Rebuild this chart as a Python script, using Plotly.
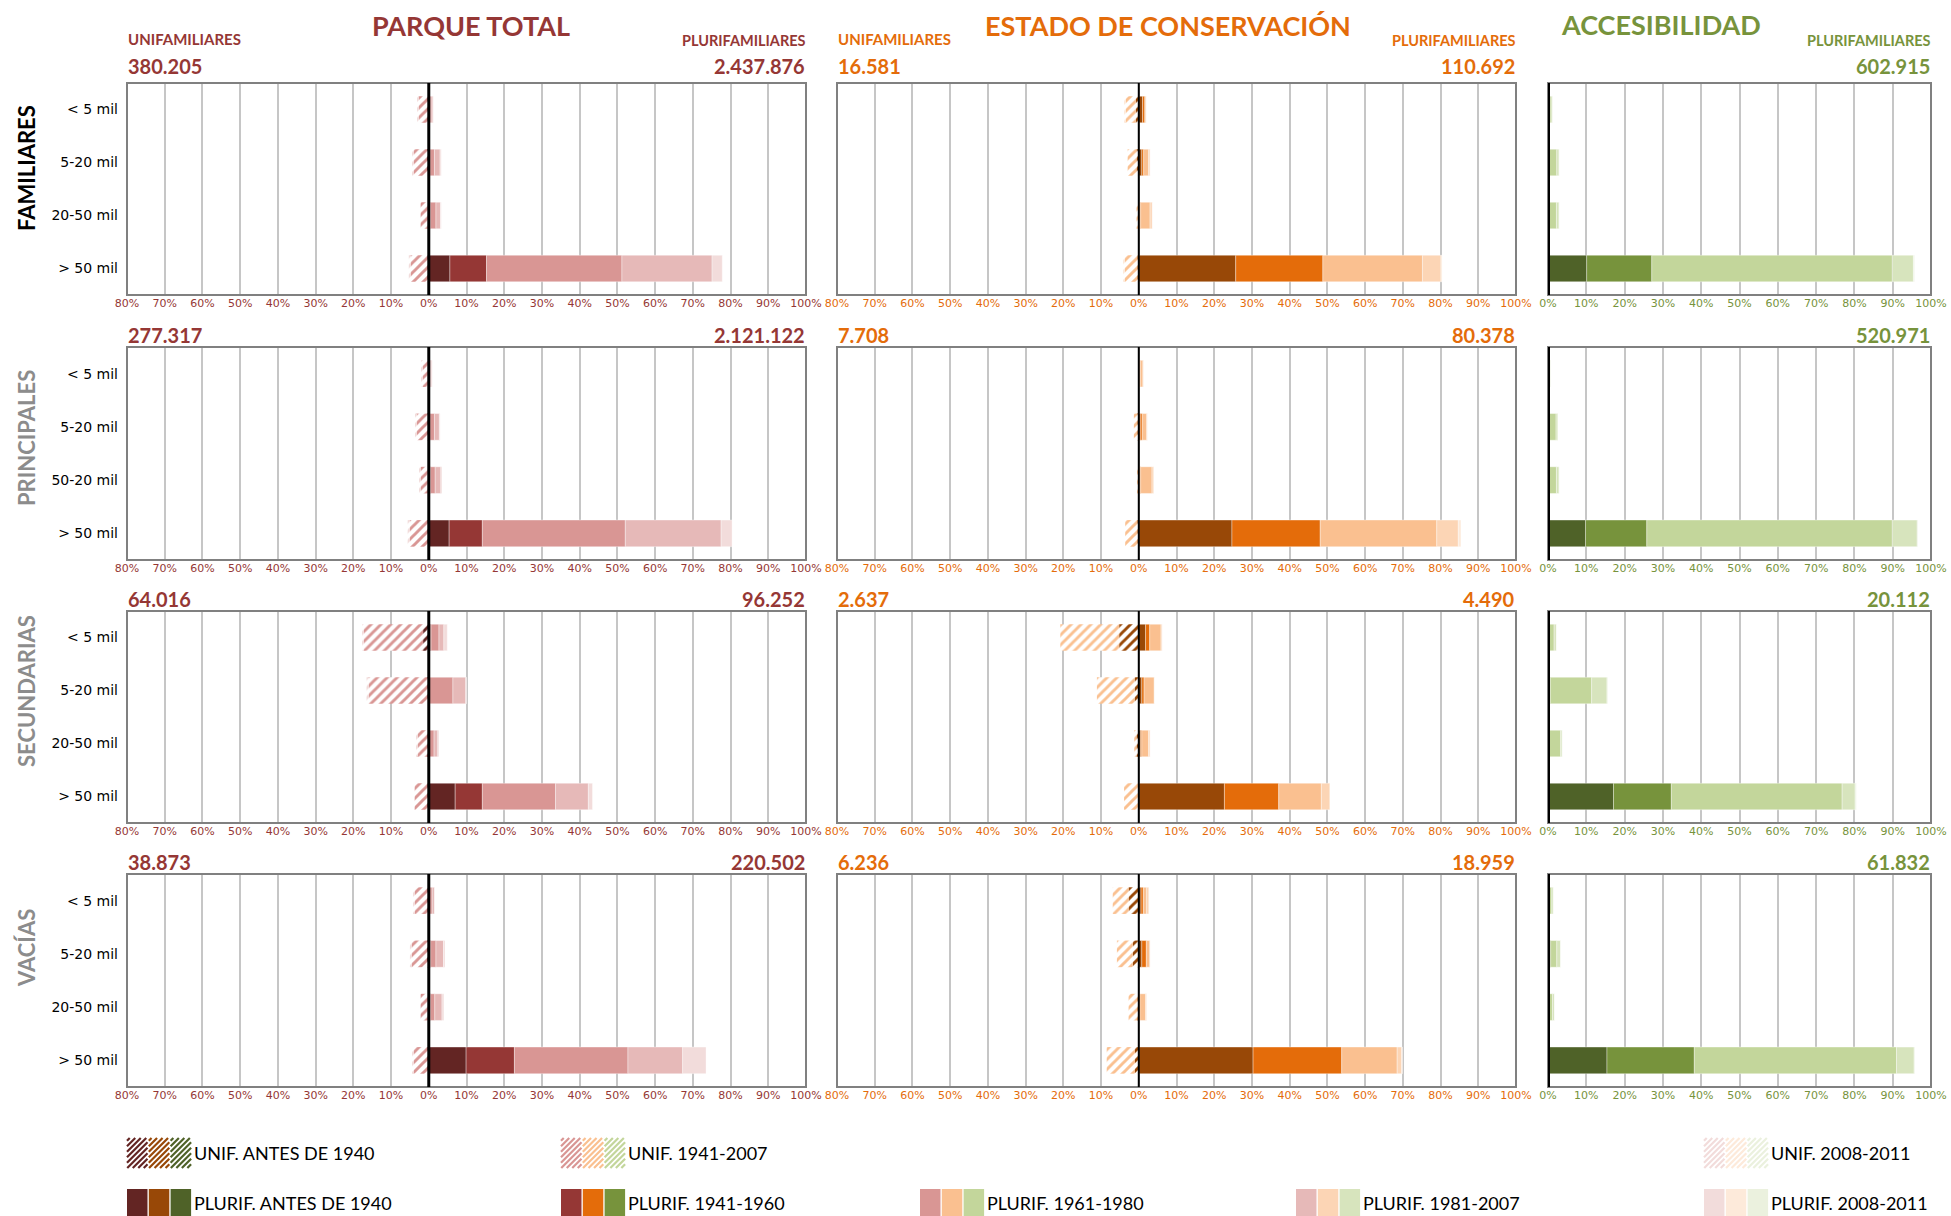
import plotly.graph_objects as go

# ---------------- DATA ----------------
CATS = ["< 5 mil", "5-20 mil", "20-50 mil", "> 50 mil"]
CATS_PRI = ["< 5 mil", "5-20 mil", "50-20 mil", "> 50 mil"]
ROW_NAMES = ["FAMILIARES", "PRINCIPALES", "SECUNDARIAS", "VACÍAS"]
PANEL_TITLES = ["PARQUE TOTAL", "ESTADO DE CONSERVACIÓN", "ACCESIBILIDAD"]
UNIF_PERIODS = ["UNIF. ANTES DE 1940", "UNIF. 1941-2007", "UNIF. 2008-2011"]
PLURIF_PERIODS = ["PLURIF. ANTES DE 1940", "PLURIF. 1941-1960", "PLURIF. 1961-1980",
                  "PLURIF. 1981-2007", "PLURIF. 2008-2011"]
X_TICKS_BI = [-80, -70, -60, -50, -40, -30, -20, -10, 0, 10, 20, 30, 40, 50, 60, 70, 80, 90, 100]
X_TICKS_UNI = [0, 10, 20, 30, 40, 50, 60, 70, 80, 90, 100]

PT_UNIF_TOTALS = ["380.205", "277.317", "64.016", "38.873"]
PT_PLURIF_TOTALS = ["2.437.876", "2.121.122", "96.252", "220.502"]
EC_UNIF_TOTALS = ["16.581", "7.708", "2.637", "6.236"]
EC_PLURIF_TOTALS = ["110.692", "80.378", "4.490", "18.959"]
AC_PLURIF_TOTALS = ["602.915", "520.971", "20.112", "61.832"]

# percentages; each inner list = one period across the 4 size categories
PT_FAM_UNIF = [[0.3, 0.4, 0.2, 0.3], [2.5, 3.6, 1.9, 4.6], [0.2, 0.3, 0.2, 0.4]]
PT_FAM_PLURIF = [[0.0, 0.1, 0.1, 5.6], [0.1, 0.2, 0.3, 9.7], [0.5, 1.2, 1.5, 35.9],
                 [0.5, 1.5, 1.2, 23.9], [0.1, 0.3, 0.2, 2.7]]
PT_PRI_UNIF = [[0.2, 0.3, 0.2, 0.3], [1.5, 3.0, 2.1, 4.8], [0.2, 0.3, 0.2, 0.5]]
PT_PRI_PLURIF = [[0.0, 0.1, 0.1, 5.4], [0.1, 0.2, 0.3, 8.8], [0.4, 1.2, 1.3, 37.9],
                 [0.3, 1.3, 1.5, 25.4], [0.1, 0.2, 0.3, 2.9]]
PT_SEC_UNIF = [[1.5, 0.3, 0.3, 0.3], [15.8, 15.8, 2.8, 3.4], [0.3, 0.4, 0.2, 0.2]]
PT_SEC_PLURIF = [[0.4, 0.0, 0.0, 7.0], [0.2, 0.2, 0.2, 7.2], [2.1, 6.2, 1.2, 19.4],
                 [1.3, 3.4, 1.0, 8.7], [0.9, 0.2, 0.3, 1.1]]
PT_VAC_UNIF = [[0.3, 0.4, 0.2, 0.3], [3.4, 4.2, 1.9, 3.7], [0.3, 0.4, 0.2, 0.3]]
PT_VAC_PLURIF = [[0.1, 0.2, 0.1, 9.9], [0.2, 0.3, 0.3, 12.8], [0.6, 1.4, 1.2, 30.1],
                 [0.6, 2.0, 1.9, 14.5], [0.1, 0.4, 0.5, 6.2]]

EC_FAM_UNIF = [[0.8, 0.6, 0.1, 0.3], [2.8, 2.3, 0.5, 3.5], [0.1, 0.1, 0.0, 0.2]]
EC_FAM_PLURIF = [[1.0, 0.8, 0.2, 25.7], [0.6, 0.5, 0.3, 23.1], [0.3, 1.3, 2.5, 26.4],
                 [0.1, 0.4, 0.6, 4.9], [0.0, 0.0, 0.0, 0.3]]
EC_PRI_UNIF = [[0.0, 0.3, 0.1, 0.3], [0.1, 1.0, 0.2, 3.3], [0.0, 0.0, 0.0, 0.0]]
EC_PRI_PLURIF = [[0.2, 0.4, 0.2, 24.7], [0.2, 0.5, 0.3, 23.4], [0.7, 1.2, 3.0, 30.9],
                 [0.2, 0.2, 0.5, 5.7], [0.0, 0.0, 0.0, 0.7]]
EC_SEC_UNIF = [[5.2, 1.1, 0.6, 0.2], [15.6, 10.0, 0.6, 3.7], [0.0, 0.0, 0.0, 0.0]]
EC_SEC_PLURIF = [[1.8, 0.8, 0.5, 22.7], [1.1, 0.6, 0.3, 14.4], [3.0, 2.7, 1.8, 11.3],
                 [0.3, 0.1, 0.4, 2.3], [0.0, 0.0, 0.0, 0.0]]
EC_VAC_UNIF = [[2.7, 1.6, 0.3, 1.0], [4.2, 4.2, 2.4, 7.5], [0.0, 0.0, 0.0, 0.0]]
EC_VAC_PLURIF = [[0.6, 0.8, 0.0, 30.3], [0.6, 1.2, 0.3, 23.5], [0.9, 1.0, 1.5, 14.7],
                 [0.6, 0.0, 0.3, 1.2], [0.0, 0.0, 0.0, 0.2]]

AC_FAM_PLURIF = [[0.0, 0.0, 0.0, 10.1], [0.0, 0.3, 0.2, 17.0], [0.8, 2.0, 2.0, 62.8],
                 [0.4, 0.6, 0.7, 5.5], [0.0, 0.0, 0.0, 0.3]]
AC_PRI_PLURIF = [[0.0, 0.0, 0.0, 9.8], [0.0, 0.3, 0.2, 16.0], [0.5, 1.8, 2.0, 64.1],
                 [0.2, 0.5, 0.7, 6.5], [0.0, 0.0, 0.0, 0.2]]
AC_SEC_PLURIF = [[0.0, 0.3, 0.0, 17.1], [0.0, 0.3, 0.2, 15.1], [1.6, 10.8, 3.1, 44.6],
                 [0.6, 4.0, 0.4, 3.4], [0.0, 0.2, 0.0, 0.3]]
AC_VAC_PLURIF = [[0.0, 0.2, 0.0, 15.4], [0.2, 0.5, 0.2, 22.8], [0.8, 1.6, 1.0, 52.8],
                 [0.4, 1.0, 0.5, 4.6], [0.0, 0.0, 0.0, 0.2]]

# ---------------- STYLE ----------------
W, H = 1951, 1216
RED = ["#632523", "#953735", "#D99694", "#E6B9B8", "#F2DCDB"]
ORANGE = ["#984807", "#E46C0A", "#FAC090", "#FCD5B5", "#FDEADA"]
GREEN = ["#4F6228", "#77933C", "#C3D69B", "#D7E4BD", "#EBF1DE"]
PALETTES = [RED, ORANGE, GREEN]
TEXT_COL = ["#953735", "#E46C0A", "#77933C"]
ROW_LABEL_COL = ["#000000", "#8C8C8C", "#8C8C8C", "#8C8C8C"]
FONT = "Lato, 'Open Sans', sans-serif"
TICKFONT = "'DejaVu Sans', Verdana, sans-serif"

COL_X = [(127, 806), (837, 1516), (1548, 1931)]
ROW_Y = [(83, 295), (347, 560), (611, 823), (874, 1087)]
ZERO_W = [3, 2, 4]

UNIF = [[PT_FAM_UNIF, PT_PRI_UNIF, PT_SEC_UNIF, PT_VAC_UNIF],
        [EC_FAM_UNIF, EC_PRI_UNIF, EC_SEC_UNIF, EC_VAC_UNIF],
        None]
PLURIF = [[PT_FAM_PLURIF, PT_PRI_PLURIF, PT_SEC_PLURIF, PT_VAC_PLURIF],
          [EC_FAM_PLURIF, EC_PRI_PLURIF, EC_SEC_PLURIF, EC_VAC_PLURIF],
          [AC_FAM_PLURIF, AC_PRI_PLURIF, AC_SEC_PLURIF, AC_VAC_PLURIF]]
LEFT_TOTALS = [PT_UNIF_TOTALS, EC_UNIF_TOTALS, None]
RIGHT_TOTALS = [PT_PLURIF_TOTALS, EC_PLURIF_TOTALS, AC_PLURIF_TOTALS]


def px(x):
    return x / W


def py(y):
    return 1 - y / H


fig = go.Figure()
layout = dict(
    template="none",
    width=W, height=H, margin=dict(l=0, r=0, t=0, b=0, pad=0), autosize=False,
    paper_bgcolor="white", plot_bgcolor="white",
    barmode="relative", bargap=0.5, showlegend=False,
    font=dict(family=FONT),
)
shapes = []
annotations = []

for r in range(4):
    cats = CATS_PRI if r == 1 else CATS
    for c in range(3):
        k = r * 3 + c + 1
        xa = "x" if k == 1 else f"x{k}"
        ya = "y" if k == 1 else f"y{k}"
        pal = PALETTES[c]
        hatch_cols = [pal[0], pal[2], pal[4]]
        if UNIF[c] is not None:
            for i, series in enumerate(UNIF[c][r]):
                fig.add_trace(go.Bar(
                    y=cats, x=[-v for v in series], orientation="h",
                    xaxis=xa, yaxis=ya, name=UNIF_PERIODS[i],
                    marker=dict(color="white", line=dict(width=0),
                                pattern=dict(shape="/", fgcolor=hatch_cols[i],
                                             bgcolor="white", size=7, solidity=0.42,
                                             fillmode="replace")),
                ))
        for i, series in enumerate(PLURIF[c][r]):
            fig.add_trace(go.Bar(
                y=cats, x=series, orientation="h", xaxis=xa, yaxis=ya,
                name=PLURIF_PERIODS[i],
                marker=dict(color=pal[i], line=dict(color="rgba(255,255,255,0.6)", width=0.6)),
            ))
        x0, x1 = COL_X[c]
        y0, y1 = ROW_Y[r]
        ticks = X_TICKS_UNI if c == 2 else X_TICKS_BI
        layout["xaxis" if k == 1 else f"xaxis{k}"] = dict(
            domain=[px(x0), px(x1)], anchor=ya, automargin=False,
            range=[0, 100] if c == 2 else [-80, 100],
            tickmode="array", tickvals=ticks, ticktext=[f"{abs(t)}%" for t in ticks],
            showgrid=True, gridcolor="#C6C6C6", gridwidth=2,
            zeroline=False, showline=False, ticks="",
            tickfont=dict(family=TICKFONT, size=11, color=TEXT_COL[c]),
            fixedrange=True,
        )
        layout["yaxis" if k == 1 else f"yaxis{k}"] = dict(
            domain=[py(y1), py(y0)], anchor=xa, type="category", automargin=False,
            categoryorder="array", categoryarray=cats, range=[3.5, -0.5],
            showgrid=False, zeroline=False, showline=False, ticks="",
            showticklabels=(c == 0), ticklabelstandoff=8,
            tickfont=dict(family=TICKFONT, size=14, color="#000000"),
            fixedrange=True,
        )
        shapes.append(dict(type="rect", xref=f"{xa} domain", yref=f"{ya} domain",
                           x0=0, x1=1, y0=0, y1=1, layer="above",
                           line=dict(color="#808080", width=2), fillcolor="rgba(0,0,0,0)"))
        shapes.append(dict(type="line", xref=xa, yref=f"{ya} domain",
                           x0=0, x1=0, y0=0, y1=1, layer="above",
                           line=dict(color="black", width=ZERO_W[c])))

# ---------------- TEXT ----------------
TITLE_POS = [(471, 25), (1168, 25), (1661, 24)]
for c in range(3):
    annotations.append(dict(text=f"<b>{PANEL_TITLES[c]}</b>", x=px(TITLE_POS[c][0]), y=py(TITLE_POS[c][1]),
                            xref="paper", yref="paper", xanchor="center", yanchor="middle",
                            showarrow=False, font=dict(family=FONT, size=27, color=TEXT_COL[c])))
    x0, x1 = COL_X[c]
    if c < 2:
        annotations.append(dict(text="<b>UNIFAMILIARES</b>", x=px(x0 - 1), y=py(39),
                                xref="paper", yref="paper", xanchor="left", yanchor="middle",
                                showarrow=False, font=dict(family=FONT, size=15, color=TEXT_COL[c])))
    annotations.append(dict(text="<b>PLURIFAMILIARES</b>", x=px(x1 + 2), y=py(40),
                            xref="paper", yref="paper", xanchor="right", yanchor="middle",
                            showarrow=False, font=dict(family=FONT, size=14.5, color=TEXT_COL[c])))

NUM_Y = [66, 335, 599, 862]
for r in range(4):
    for c in range(3):
        x0, x1 = COL_X[c]
        if LEFT_TOTALS[c] is not None:
            annotations.append(dict(text=f"<b>{LEFT_TOTALS[c][r]}</b>", x=px(x0 - 1), y=py(NUM_Y[r]),
                                    xref="paper", yref="paper", xanchor="left", yanchor="middle",
                                    showarrow=False, font=dict(family=FONT, size=20, color=TEXT_COL[c])))
        annotations.append(dict(text=f"<b>{RIGHT_TOTALS[c][r]}</b>", x=px(x1 + 1), y=py(NUM_Y[r]),
                                xref="paper", yref="paper", xanchor="right", yanchor="middle",
                                showarrow=False, font=dict(family=FONT, size=20, color=TEXT_COL[c])))

ROW_LABEL_Y = [168, 438, 691, 948]
for r in range(4):
    annotations.append(dict(text=f"<b>{ROW_NAMES[r]}</b>", x=px(26), y=py(ROW_LABEL_Y[r]),
                            xref="paper", yref="paper", xanchor="center", yanchor="middle",
                            textangle=-90, showarrow=False,
                            font=dict(family=FONT, size=22, color=ROW_LABEL_COL[r])))

# ---------------- CUSTOM LEGEND ----------------
SW_W, SW_GAP = 20.5, 1.3
TOP_Y = (1138, 1168)
BOT_Y = (1189, 1217)


def hatch_path(x0, y0, x1, y1, s=5.5):
    parts = []
    cc = x0 + y0 + s / 2
    while cc < x1 + y1:
        xa_ = max(x0, cc - y1)
        xb_ = min(x1, cc - y0)
        if xb_ > xa_:
            parts.append(f"M{px(xa_):.6f},{py(cc - xa_):.6f} L{px(xb_):.6f},{py(cc - xb_):.6f}")
        cc += s
    return " ".join(parts)


def legend_item(gx, yspan, colors, label, hatched):
    for j, col in enumerate(colors):
        sx0 = gx + j * (SW_W + SW_GAP)
        sx1 = sx0 + SW_W
        if hatched:
            shapes.append(dict(type="path", xref="paper", yref="paper",
                               path=hatch_path(sx0, yspan[0], sx1, yspan[1]),
                               line=dict(color=col, width=2.2)))
        else:
            shapes.append(dict(type="rect", xref="paper", yref="paper",
                               x0=px(sx0), x1=px(sx1), y0=py(yspan[1]), y1=py(yspan[0]),
                               fillcolor=col, line=dict(width=0)))
    annotations.append(dict(text=label, x=px(gx + 3 * (SW_W + SW_GAP)), y=py((yspan[0] + yspan[1]) / 2),
                            xref="paper", yref="paper", xanchor="left", yanchor="middle",
                            showarrow=False, font=dict(family=FONT, size=18, color="#000000")))


UNIF_LEG_X = [127, 561, 1704]
for i in range(3):
    cols = [RED[[0, 2, 4][i]], ORANGE[[0, 2, 4][i]], GREEN[[0, 2, 4][i]]]
    legend_item(UNIF_LEG_X[i], TOP_Y, cols, UNIF_PERIODS[i], True)
PLURIF_LEG_X = [127, 561, 920, 1296, 1704]
for i in range(5):
    legend_item(PLURIF_LEG_X[i], BOT_Y, [RED[i], ORANGE[i], GREEN[i]], PLURIF_PERIODS[i], False)

layout["shapes"] = shapes
layout["annotations"] = annotations
fig.update_layout(**layout)

fig.write_html("out.html", config={"displayModeBar": False},
               post_script="document.body.style.margin='0';document.body.style.overflow='hidden';")
